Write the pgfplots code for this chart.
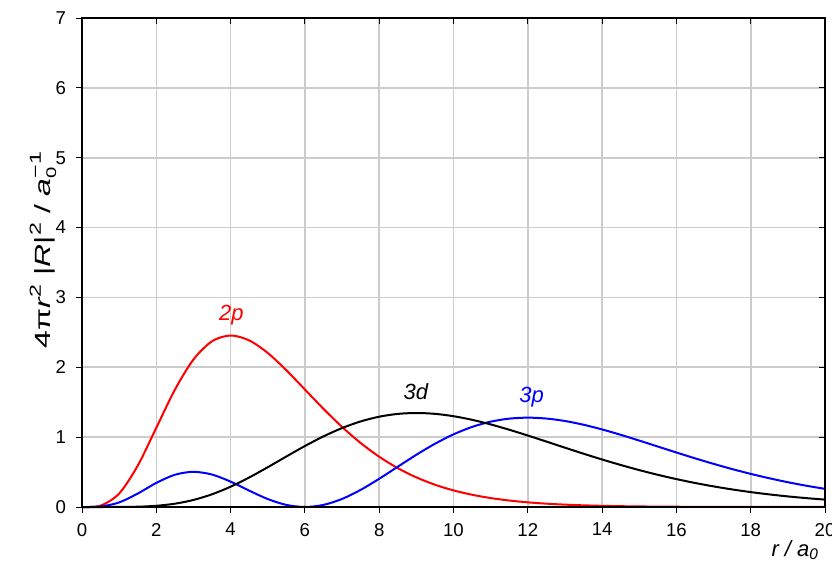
\documentclass[border=0pt]{standalone}
\usepackage{fontspec}
\setmainfont{Liberation Sans}
\usepackage{graphicx}
\usepackage{pgfplots}
\pgfplotsset{compat=1.18}
\definecolor{gridgray}{RGB}{204,204,204}
\newcommand\sups[1]{\raisebox{0.85ex}{\fontsize{8bp}{8bp}\selectfont #1}}
\begin{document}
\begin{tikzpicture}
\useasboundingbox (-41bp,-31bp) rectangle (375bp,253.5bp);
\begin{axis}[
  at={(0,0)}, anchor=south west,
  scale only axis, width=371.5bp, height=244.5bp,
  xmin=0, xmax=20, ymin=0, ymax=7,
  xtick={0,2,...,20}, ytick={0,1,...,7},
  xtick pos=bottom, ytick pos=left,
  tick align=outside, major tick length=3bp,
  tick style={black, line width=0.5bp},
  grid=major, major grid style={gridgray, line width=0.8bp},
  axis line style={black, line width=0.6bp},
  /pgf/number format/assume math mode=true,
  ticklabel style={font=\fontsize{9.3bp}{10bp}\selectfont},
  xticklabel style={yshift=-1.5bp},
  yticklabel style={xshift=-1.5bp},
  every axis plot/.append style={line width=1bp, no marks, smooth},
  clip=false,
]
\addplot[red] coordinates {
(0,0) (0.5,0.01985) (1,0.19262) (1.5,0.59146) (2,1.13378) (2.5,1.67889) (3,2.11154) (3.5,2.37266) (4,2.45511) (4.5,2.38520) (5,2.20498) (5.5,1.95810) (6,1.68207) (6.5,1.40516) (7,1.14638) (7.5,0.91629) (8,0.71944) (8.5,0.55612) (9,0.42395) (9.5,0.31922) (10,0.23771) (10.5,0.17525) (11,0.12804) (11.5,0.09277) (12,0.06671) (12.5,0.04764) (13,0.03380) (13.5,0.02384) (14,0.01673) (14.5,0.01167) (15,0.00811) (16,0.00386) (17,0.00181) (18,0.00084) (19,0.00038) (20,0.00017)
};
\addplot[blue] coordinates {
(0,0) (0.5,0.00692) (1,0.06556) (1.5,0.19262) (2,0.34466) (2.5,0.46162) (3,0.50390) (3.5,0.46452) (4,0.36340) (4.5,0.23462) (5,0.11388) (5.5,0.02987) (6,0) (6.5,0.02991) (7,0.11532) (7.5,0.24500) (8,0.40401) (8.5,0.57644) (9,0.74759) (9.5,0.90511) (10,1.03997) (10.5,1.14638) (11,1.22147) (11.5,1.26511) (12,1.27902) (12.5,1.26635) (13,1.23109) (13.5,1.17766) (14,1.11038) (14.5,1.03354) (15,0.95086) (15.5,0.86548) (16,0.78022) (16.5,0.69712) (17,0.61770) (17.5,0.54323) (18,0.47438) (18.5,0.41155) (19,0.35485) (19.5,0.30422) (20,0.25941)
};
\addplot[black] coordinates {
(0,0) (0.5,0.0000114) (1,0.000524) (1.5,0.00428) (2,0.01723) (2.5,0.04710) (3,0.10078) (3.5,0.18209) (4,0.29072) (4.5,0.42230) (5,0.56939) (5.5,0.72274) (6,0.87291) (6.5,1.01106) (7,1.13009) (7.5,1.22497) (8,1.29281) (8.5,1.33272) (9,1.34565) (9.5,1.33365) (10,1.29995) (10.5,1.24827) (11,1.18238) (11.5,1.10617) (12,1.02320) (12.5,0.93664) (13,0.84919) (13.5,0.76311) (14,0.68010) (14.5,0.60153) (15,0.52826) (15.5,0.46079) (16,0.39948) (16.5,0.34429) (17,0.29507) (17.5,0.25159) (18,0.21347) (18.5,0.18029) (19,0.15160) (19.5,0.12694) (20,0.10588)
};
\node[red, font=\fontsize{11bp}{12bp}\selectfont\itshape] at (axis cs:4.02,2.75) {2p};
\node[black, font=\fontsize{11bp}{12bp}\selectfont\itshape] at (axis cs:8.99,1.65) {3d};
\node[blue, font=\fontsize{11bp}{12bp}\selectfont\itshape] at (axis cs:12.1,1.58) {3p};
\node[font=\fontsize{11bp}{12bp}\selectfont\itshape] at (rel axis cs:0.96,-0.088) {r / a\textsubscript{0}};
\node[font=\fontsize{11bp}{12bp}\selectfont, rotate=90] at (rel axis cs:-0.0525,0.525) {\scalebox{1.45}[1]{4π\textit{r}\sups{2} |\textit{R}|\sups{2} / \textit{a}\rlap{\raisebox{-0.45ex}{\fontsize{7bp}{7bp}\selectfont 0}}\sups{−1}}};
\end{axis}
\begin{axis}[
  at={(0,0)}, anchor=south west,
  scale only axis, width=371.5bp, height=244.5bp,
  xmin=0, xmax=20, ymin=0, ymax=7,
  xtick={0,2,...,20}, ytick={0,1,...,7},
  xtick pos=right, ytick pos=right,
  tick align=inside, major tick length=3bp,
  tick style={black, line width=0.5bp},
  xticklabels={}, yticklabels={},
  axis line style={black, line width=0.6bp},
]
\end{axis}
\end{tikzpicture}
\end{document}
